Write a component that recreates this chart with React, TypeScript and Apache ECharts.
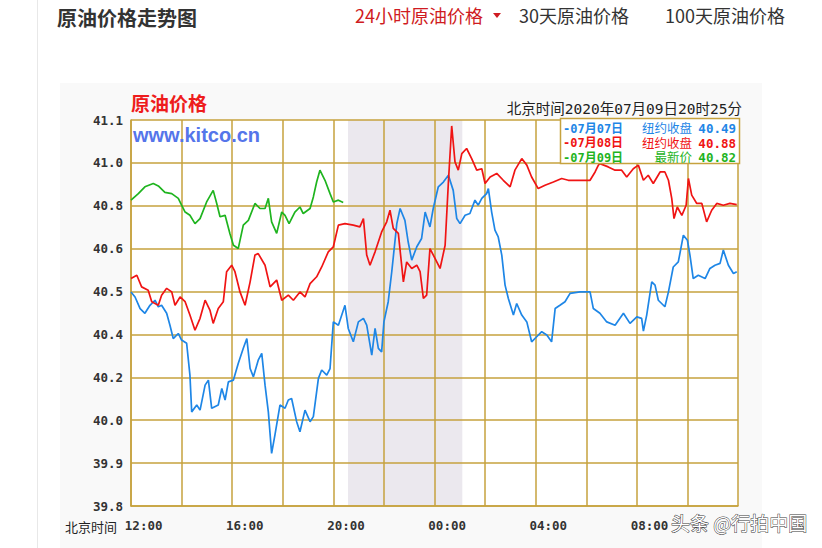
import React, { useEffect, useRef } from 'react';
import * as echarts from 'echarts';

// Tick labels as printed on the original (evenly spaced grid rows)
const yTickLabels = ['39.8', '39.9', '40.0', '40.2', '40.4', '40.5', '40.6', '40.8', '41.0', '41.1'];
const yMin = 39.8;
const yMax = 41.1;
// x axis: clock hours, next day written as 24+
const xMin = 11.5;
const xMax = 35.5;
const xLabelHours = [12, 16, 20, 24, 28, 32];
const nightSession = [20.08, 24.6];

const seriesNames = ['07月07日', '07月08日', '07月09日'];
const legendCaptions = ['纽约收盘', '纽约收盘', '最新价'];
const legendValues = ['40.49', '40.88', '40.82'];
const seriesColors = ['#1e86e6', '#f01414', '#1fb41f'];

// [hour, price]
const blue0707 = [
  [11.5, 40.521], [11.66, 40.504], [11.86, 40.465], [12.05, 40.449], [12.25, 40.476], [12.45, 40.493],
  [12.58, 40.471], [12.71, 40.476], [12.91, 40.449], [13.04, 40.409], [13.17, 40.364], [13.37, 40.381],
  [13.5, 40.359], [13.7, 40.348], [13.83, 40.241], [13.9, 40.117], [14.1, 40.14], [14.23, 40.123],
  [14.43, 40.207], [14.56, 40.224], [14.69, 40.129], [14.95, 40.14], [15.09, 40.196], [15.22, 40.157],
  [15.35, 40.218], [15.55, 40.224], [15.74, 40.28], [15.94, 40.331], [16.08, 40.364], [16.21, 40.263],
  [16.34, 40.235], [16.53, 40.291], [16.67, 40.314], [16.8, 40.207], [16.93, 40.117], [17.06, 39.977],
  [17.19, 40.039], [17.39, 40.14], [17.59, 40.129], [17.72, 40.157], [17.85, 40.162], [18.05, 40.084],
  [18.18, 40.05], [18.38, 40.123], [18.58, 40.084], [18.71, 40.101], [18.91, 40.23], [19.04, 40.258],
  [19.24, 40.241], [19.37, 40.263], [19.5, 40.42], [19.7, 40.409], [19.96, 40.476], [20.09, 40.398],
  [20.29, 40.353], [20.49, 40.42], [20.69, 40.432], [20.82, 40.409], [21.02, 40.308], [21.15, 40.398],
  [21.28, 40.331], [21.41, 40.319], [21.5, 40.42], [21.67, 40.488], [21.81, 40.589], [22.01, 40.751],
  [22.14, 40.802], [22.33, 40.762], [22.46, 40.689], [22.6, 40.628], [22.8, 40.673], [22.99, 40.701],
  [23.13, 40.79], [23.32, 40.74], [23.45, 40.802], [23.65, 40.875], [23.85, 40.891], [24.05, 40.914],
  [24.24, 40.863], [24.38, 40.768], [24.51, 40.751], [24.71, 40.779], [24.9, 40.785], [25.1, 40.83],
  [25.23, 40.813], [25.37, 40.836], [25.56, 40.852], [25.63, 40.869], [25.76, 40.79], [25.89, 40.729],
  [26.02, 40.706], [26.16, 40.645], [26.29, 40.544], [26.42, 40.499], [26.62, 40.443], [26.75, 40.482],
  [26.95, 40.443], [27.15, 40.42], [27.34, 40.353], [27.54, 40.37], [27.74, 40.387], [27.94, 40.376],
  [28.13, 40.353], [28.27, 40.465], [28.46, 40.476], [28.66, 40.488], [28.86, 40.516], [29.25, 40.521],
  [29.65, 40.521], [29.78, 40.465], [30.04, 40.449], [30.31, 40.42], [30.64, 40.409], [30.97, 40.449],
  [31.23, 40.415], [31.5, 40.437], [31.69, 40.432], [31.76, 40.389], [31.89, 40.443], [32.09, 40.555],
  [32.22, 40.544], [32.35, 40.493], [32.61, 40.471], [32.75, 40.521], [32.94, 40.605], [33.14, 40.622],
  [33.34, 40.712], [33.5, 40.695], [33.6, 40.645], [33.73, 40.566], [33.93, 40.577], [34.2, 40.566],
  [34.39, 40.6], [34.59, 40.611], [34.79, 40.617], [34.92, 40.662], [35.12, 40.611], [35.32, 40.583],
  [35.45, 40.589],
];

const red0708 = [
  [11.5, 40.566], [11.73, 40.577], [11.92, 40.538], [12.18, 40.527], [12.32, 40.488], [12.58, 40.476],
  [12.71, 40.51], [12.91, 40.533], [13.11, 40.521], [13.24, 40.476], [13.44, 40.504], [13.64, 40.488],
  [13.83, 40.443], [14.03, 40.392], [14.23, 40.432], [14.43, 40.493], [14.62, 40.46], [14.75, 40.415],
  [14.95, 40.465], [15.15, 40.488], [15.28, 40.589], [15.48, 40.611], [15.61, 40.589], [15.81, 40.521],
  [16.01, 40.476], [16.21, 40.555], [16.4, 40.645], [16.53, 40.65], [16.8, 40.611], [17.0, 40.538],
  [17.26, 40.561], [17.46, 40.493], [17.72, 40.51], [17.92, 40.493], [18.18, 40.521], [18.38, 40.504],
  [18.58, 40.549], [18.84, 40.572], [19.04, 40.605], [19.3, 40.656], [19.5, 40.673], [19.7, 40.746],
  [19.96, 40.751], [20.29, 40.746], [20.55, 40.74], [20.69, 40.768], [20.82, 40.645], [20.95, 40.611],
  [21.15, 40.656], [21.41, 40.723], [21.61, 40.757], [21.74, 40.796], [21.87, 40.735], [22.07, 40.718],
  [22.27, 40.555], [22.4, 40.622], [22.6, 40.6], [22.8, 40.611], [22.93, 40.589], [23.06, 40.499],
  [23.19, 40.51], [23.32, 40.667], [23.52, 40.634], [23.72, 40.6], [23.92, 40.678], [24.05, 40.891],
  [24.18, 41.08], [24.31, 40.959], [24.44, 40.931], [24.58, 40.987], [24.77, 41.004], [24.97, 40.97],
  [25.17, 40.931], [25.37, 40.936], [25.5, 40.886], [25.7, 40.908], [25.96, 40.92], [26.22, 40.897],
  [26.49, 40.875], [26.68, 40.931], [26.95, 40.97], [27.15, 40.948], [27.34, 40.908], [27.6, 40.869],
  [27.87, 40.88], [28.2, 40.891], [28.53, 40.903], [28.79, 40.897], [29.19, 40.897], [29.65, 40.897],
  [29.85, 40.925], [29.98, 40.948], [30.04, 40.953], [30.37, 40.942], [30.64, 40.931], [30.9, 40.931],
  [31.1, 40.908], [31.36, 40.936], [31.56, 40.948], [31.76, 40.897], [31.95, 40.914], [32.15, 40.886],
  [32.42, 40.925], [32.61, 40.925], [32.75, 40.897], [32.88, 40.836], [32.97, 40.768], [33.1, 40.807],
  [33.28, 40.779], [33.45, 40.813], [33.54, 40.903], [33.67, 40.847], [33.87, 40.819], [34.07, 40.819],
  [34.26, 40.757], [34.46, 40.796], [34.66, 40.819], [34.92, 40.813], [35.18, 40.819], [35.45, 40.815],
];

const green0709 = [
  [11.5, 40.83], [11.79, 40.852], [12.05, 40.875], [12.38, 40.886], [12.58, 40.878], [12.84, 40.856],
  [13.11, 40.852], [13.37, 40.836], [13.5, 40.813], [13.64, 40.79], [13.83, 40.779], [14.03, 40.751],
  [14.23, 40.768], [14.49, 40.824], [14.75, 40.863], [14.89, 40.819], [15.02, 40.774], [15.22, 40.779],
  [15.41, 40.718], [15.55, 40.678], [15.74, 40.667], [15.94, 40.746], [16.14, 40.762], [16.4, 40.819],
  [16.6, 40.802], [16.8, 40.802], [16.93, 40.836], [17.06, 40.757], [17.26, 40.718], [17.46, 40.79],
  [17.59, 40.779], [17.75, 40.751], [17.98, 40.79], [18.18, 40.807], [18.31, 40.785], [18.58, 40.802],
  [18.71, 40.841], [18.84, 40.891], [18.97, 40.931], [19.17, 40.897], [19.37, 40.852], [19.5, 40.824],
  [19.7, 40.83], [19.89, 40.822],
];

const GOLD = '#c6a23e';
const MONO = '"DejaVu Sans Mono", "Noto Sans CJK SC", monospace';
const CJK = '"Noto Sans CJK SC", sans-serif';

export default function App() {
  const ref = useRef<HTMLDivElement>(null);

  useEffect(() => {
    if (!ref.current) return;
    const chart = echarts.init(ref.current, null, { renderer: 'svg' });
    const yStep = (yMax - yMin) / 9;
    const allData = [blue0707, red0708, green0709];

    const lineSeries = allData.map((data, i) => ({
      type: 'line',
      name: seriesNames[i],
      data,
      showSymbol: false,
      symbol: 'none',
      z: 3,
      silent: true,
      lineStyle: { color: seriesColors[i], width: 1.7 },
      itemStyle: { color: seriesColors[i] },
    }));

    const bandSeries = {
      type: 'line',
      name: 'band',
      data: [],
      z: 1,
      silent: true,
      markArea: {
        silent: true,
        z: 1,
        itemStyle: { color: '#ebe8ee' },
        data: [[{ xAxis: nightSession[0] }, { xAxis: nightSession[1] }]],
      },
    };

    // legend: one multi-line rich text per column so rows never collide
    const richFor = (font: string) => {
      const r: any = {};
      seriesColors.forEach((c, i) => { r['c' + i] = { fill: c, color: c, font, lineHeight: 14.5 }; });
      return r;
    };
    const column = (items: string[]) => items.map((t, i) => `{c${i}|${t}}`).join('\n');

    const legendGraphics: any[] = [
      {
        type: 'rect', z: 20, silent: true,
        shape: { x: 560.5, y: 118.5, width: 179, height: 45 },
        style: { fill: '#ffffff', stroke: GOLD, lineWidth: 1.5 },
      },
      { type: 'text', z: 21, silent: true, x: 563, y: 143, style: { text: column(seriesNames.map((n) => '-' + n)), rich: richFor(`bold 12px ${MONO}`), verticalAlign: 'middle', align: 'left' } },
      { type: 'text', z: 21, silent: true, x: 692, y: 143, style: { text: column(legendCaptions), rich: richFor(`12.5px ${MONO}`), verticalAlign: 'middle', align: 'right' } },
      { type: 'text', z: 21, silent: true, x: 736, y: 143, style: { text: column(legendValues), rich: richFor(`bold 12.5px ${MONO}`), verticalAlign: 'middle', align: 'right' } },
    ];

    const option: any = {
      animation: false,
      backgroundColor: '#ffffff',
      grid: { left: 131, right: 84, top: 120, bottom: 42, show: true, backgroundColor: '#ffffff', borderWidth: 0 },
      xAxis: {
        type: 'value', min: xMin, max: xMax, interval: 2, z: 2,
        axisLine: { show: true, lineStyle: { color: GOLD, width: 1.5 } },
        axisTick: { show: false },
        splitLine: { show: true, lineStyle: { color: GOLD, width: 1.5 } },
        axisLabel: {
          customValues: xLabelHours,
          formatter: (v: number) => String(Math.round(v) % 24).padStart(2, '0') + ':00',
          margin: 13, color: '#333', fontFamily: MONO, fontWeight: 'bold', fontSize: 12.5,
        },
      },
      yAxis: {
        type: 'value', min: yMin, max: yMax, interval: yStep, z: 2,
        axisLine: { show: true, lineStyle: { color: GOLD, width: 1.5 } },
        axisTick: { show: false },
        splitLine: { show: true, lineStyle: { color: GOLD, width: 1.5 } },
        axisLabel: {
          formatter: (v: number) => yTickLabels[Math.round((v - yMin) / yStep)] ?? '',
          margin: 8, color: '#333', fontFamily: MONO, fontWeight: 'bold', fontSize: 12.5,
        },
      },
      series: [bandSeries, ...lineSeries],
      graphic: [
        { type: 'rect', z: -1, silent: true, shape: { x: 60, y: 83, width: 702, height: 465 }, style: { fill: '#f9f9f9' } },
        { type: 'line', z: 10, silent: true, shape: { x1: 37.5, y1: 0, x2: 37.5, y2: 548 }, style: { stroke: '#e8e8e8', lineWidth: 1 } },
        { type: 'text', z: 10, silent: true, x: 57, y: 17, style: { text: '原油价格走势图', fill: '#333333', font: `bold 20px ${CJK}`, verticalAlign: 'middle', align: 'left' } },
        { type: 'text', z: 10, silent: true, x: 355, y: 15, style: { text: '24小时原油价格', fill: '#cf1b22', font: `18px ${CJK}`, verticalAlign: 'middle', align: 'left' } },
        { type: 'polygon', z: 10, silent: true, shape: { points: [[493, 13], [501, 13], [497, 18]] }, style: { fill: '#cf1b22' } },
        { type: 'text', z: 10, silent: true, x: 519, y: 15, style: { text: '30天原油价格', fill: '#333333', font: `18px ${CJK}`, verticalAlign: 'middle', align: 'left' } },
        { type: 'text', z: 10, silent: true, x: 665, y: 15, style: { text: '100天原油价格', fill: '#333333', font: `18px ${CJK}`, verticalAlign: 'middle', align: 'left' } },
        { type: 'text', z: 10, silent: true, x: 131, y: 102, style: { text: '原油价格', fill: '#ee1c1c', font: `bold 19px ${CJK}`, verticalAlign: 'middle', align: 'left' } },
        { type: 'text', z: 10, silent: true, x: 133, y: 135, style: { text: 'www.kitco.cn', fill: '#5575ea', font: 'bold 20px "Liberation Sans", Arial, sans-serif', verticalAlign: 'middle', align: 'left' } },
        { type: 'text', z: 10, silent: true, x: 742, y: 109, style: { text: '北京时间2020年07月09日20时25分', fill: '#222222', font: `14.5px ${MONO}`, verticalAlign: 'middle', align: 'right' } },
        { type: 'text', z: 10, silent: true, x: 65, y: 526, style: { text: '北京时间', fill: '#222222', font: `13px ${CJK}`, verticalAlign: 'middle', align: 'left' } },
        { type: 'text', z: 30, silent: true, x: 671, y: 522, style: { text: '头条 @行拍中国', fill: '#ffffff', stroke: '#3a3a3a', lineWidth: 1, font: `19px ${CJK}`, verticalAlign: 'middle', align: 'left' } },
        ...legendGraphics,
      ],
    };

    chart.setOption(option);
    return () => chart.dispose();
  }, []);

  return <div ref={ref} style={{ position: 'fixed', left: 0, top: 0, width: 822, height: 548 }} />;
}
